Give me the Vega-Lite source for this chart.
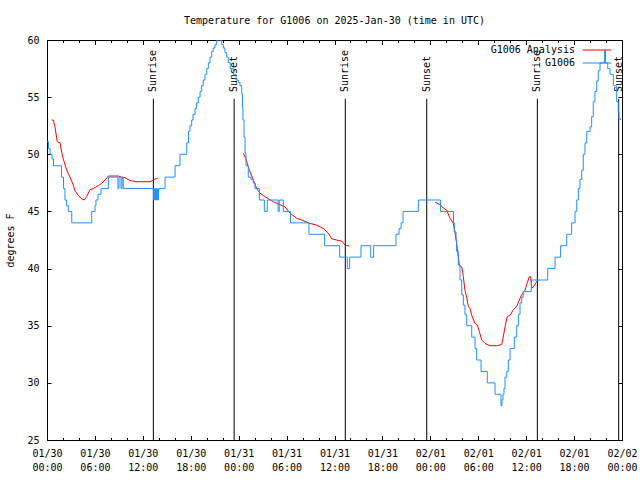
{
  "$schema": "https://vega.github.io/schema/vega-lite/v6.json",
  "width": 575,
  "height": 400,
  "autosize": {"type": "none"},
  "padding": {"left": 47, "top": 40, "right": 18, "bottom": 40},
  "background": "white",
  "title": {"text": "Temperature for G1006 on 2025-Jan-30 (time in UTC)", "font": "DejaVu Sans Mono", "fontSize": 10, "fontWeight": "normal", "color": "black", "anchor": "middle", "offset": 9},
  "config": {
    "view": {"stroke": "black", "strokeWidth": 1},
    "font": "DejaVu Sans Mono",
    "axis": {"domainColor": "black", "tickColor": "black", "labelColor": "black", "titleColor": "black", "labelFont": "DejaVu Sans Mono", "titleFont": "DejaVu Sans Mono", "labelFontSize": 10, "titleFontSize": 10, "titleFontWeight": "normal", "grid": false, "tickWidth": 1, "domainWidth": 1},
    "legend": {"labelFont": "DejaVu Sans Mono", "labelFontSize": 10, "labelColor": "black"}
  },
  "datasets": {
    "obs": [
      {"t":"2025-01-30T00:00Z","v":51.1},{"t":"2025-01-30T00:11Z","v":50.5},{"t":"2025-01-30T00:23Z","v":50.0},{"t":"2025-01-30T00:38Z","v":49.6},{"t":"2025-01-30T00:49Z","v":49.0},{"t":"2025-01-30T01:49Z","v":48.0},{"t":"2025-01-30T02:04Z","v":47.0},{"t":"2025-01-30T02:15Z","v":46.0},{"t":"2025-01-30T02:27Z","v":45.5},{"t":"2025-01-30T02:40Z","v":45.0},{"t":"2025-01-30T03:06Z","v":44.0},{"t":"2025-01-30T05:36Z","v":45.0},{"t":"2025-01-30T06:01Z","v":45.5},{"t":"2025-01-30T06:08Z","v":46.0},{"t":"2025-01-30T06:23Z","v":46.5},{"t":"2025-01-30T06:46Z","v":47.0},{"t":"2025-01-30T07:41Z","v":48.0},{"t":"2025-01-30T08:53Z","v":47.0},{"t":"2025-01-30T09:01Z","v":48.0},{"t":"2025-01-30T09:16Z","v":47.0},{"t":"2025-01-30T09:24Z","v":48.0},{"t":"2025-01-30T09:33Z","v":47.0},{"t":"2025-01-30T13:20Z","v":46.0},{"t":"2025-01-30T13:28Z","v":47.0},{"t":"2025-01-30T13:35Z","v":46.0},{"t":"2025-01-30T13:43Z","v":47.0},{"t":"2025-01-30T13:50Z","v":46.0},{"t":"2025-01-30T13:58Z","v":47.0},{"t":"2025-01-30T14:47Z","v":48.0},{"t":"2025-01-30T16:02Z","v":49.0},{"t":"2025-01-30T16:39Z","v":50.0},{"t":"2025-01-30T17:30Z","v":51.0},{"t":"2025-01-30T17:43Z","v":52.0},{"t":"2025-01-30T17:54Z","v":52.5},{"t":"2025-01-30T18:07Z","v":53.0},{"t":"2025-01-30T18:17Z","v":53.5},{"t":"2025-01-30T18:32Z","v":54.0},{"t":"2025-01-30T18:43Z","v":54.5},{"t":"2025-01-30T18:57Z","v":55.0},{"t":"2025-01-30T19:10Z","v":55.5},{"t":"2025-01-30T19:22Z","v":56.0},{"t":"2025-01-30T19:34Z","v":56.5},{"t":"2025-01-30T19:47Z","v":57.0},{"t":"2025-01-30T20:00Z","v":57.5},{"t":"2025-01-30T20:12Z","v":58.0},{"t":"2025-01-30T20:25Z","v":58.5},{"t":"2025-01-30T20:37Z","v":59.0},{"t":"2025-01-30T20:49Z","v":59.3},{"t":"2025-01-30T21:02Z","v":59.6},{"t":"2025-01-30T21:15Z","v":60.0},{"t":"2025-01-30T21:53Z","v":59.6},{"t":"2025-01-30T22:05Z","v":59.3},{"t":"2025-01-30T22:17Z","v":58.9},{"t":"2025-01-30T22:30Z","v":58.5},{"t":"2025-01-30T22:42Z","v":58.0},{"t":"2025-01-30T22:57Z","v":57.5},{"t":"2025-01-30T23:20Z","v":57.0},{"t":"2025-01-30T23:40Z","v":56.5},{"t":"2025-01-30T23:57Z","v":56.3},
      {"t":"2025-01-31T00:10Z","v":56.0},{"t":"2025-01-31T00:23Z","v":55.3},{"t":"2025-01-31T00:29Z","v":54.0},{"t":"2025-01-31T00:32Z","v":53.0},{"t":"2025-01-31T00:40Z","v":51.5},{"t":"2025-01-31T00:48Z","v":50.1},{"t":"2025-01-31T00:55Z","v":49.0},{"t":"2025-01-31T01:12Z","v":48.0},{"t":"2025-01-31T01:33Z","v":47.8},{"t":"2025-01-31T01:50Z","v":47.5},{"t":"2025-01-31T02:03Z","v":47.0},{"t":"2025-01-31T02:35Z","v":46.0},{"t":"2025-01-31T03:13Z","v":45.0},{"t":"2025-01-31T03:35Z","v":46.0},{"t":"2025-01-31T04:56Z","v":45.0},{"t":"2025-01-31T05:05Z","v":46.0},{"t":"2025-01-31T05:35Z","v":45.0},{"t":"2025-01-31T06:29Z","v":44.0},{"t":"2025-01-31T08:48Z","v":43.0},{"t":"2025-01-31T10:46Z","v":42.0},{"t":"2025-01-31T12:39Z","v":41.0},{"t":"2025-01-31T13:36Z","v":40.0},{"t":"2025-01-31T13:54Z","v":41.0},{"t":"2025-01-31T15:19Z","v":42.0},{"t":"2025-01-31T16:32Z","v":41.0},{"t":"2025-01-31T16:54Z","v":42.0},{"t":"2025-01-31T19:42Z","v":43.0},{"t":"2025-01-31T20:05Z","v":43.5},{"t":"2025-01-31T20:20Z","v":44.0},{"t":"2025-01-31T20:35Z","v":45.0},{"t":"2025-01-31T22:30Z","v":46.0},
      {"t":"2025-02-01T01:16Z","v":45.0},{"t":"2025-02-01T02:54Z","v":44.0},{"t":"2025-02-01T03:00Z","v":43.2},{"t":"2025-02-01T03:13Z","v":42.5},{"t":"2025-02-01T03:18Z","v":41.5},{"t":"2025-02-01T03:30Z","v":40.3},{"t":"2025-02-01T03:43Z","v":39.0},{"t":"2025-02-01T03:56Z","v":37.7},{"t":"2025-02-01T04:08Z","v":36.8},{"t":"2025-02-01T04:20Z","v":36.0},{"t":"2025-02-01T04:33Z","v":35.0},{"t":"2025-02-01T05:11Z","v":34.0},{"t":"2025-02-01T05:36Z","v":33.0},{"t":"2025-02-01T05:48Z","v":32.0},{"t":"2025-02-01T06:21Z","v":31.0},{"t":"2025-02-01T07:08Z","v":30.0},{"t":"2025-02-01T08:06Z","v":29.0},{"t":"2025-02-01T08:51Z","v":28.0},{"t":"2025-02-01T08:58Z","v":28.5},{"t":"2025-02-01T09:06Z","v":29.0},{"t":"2025-02-01T09:13Z","v":29.5},{"t":"2025-02-01T09:21Z","v":30.5},{"t":"2025-02-01T09:34Z","v":31.0},{"t":"2025-02-01T09:46Z","v":32.0},{"t":"2025-02-01T09:59Z","v":33.0},{"t":"2025-02-01T10:31Z","v":34.0},{"t":"2025-02-01T10:49Z","v":35.0},{"t":"2025-02-01T11:01Z","v":36.0},{"t":"2025-02-01T11:14Z","v":37.0},{"t":"2025-02-01T11:26Z","v":37.5},{"t":"2025-02-01T11:38Z","v":38.0},{"t":"2025-02-01T12:39Z","v":39.0},{"t":"2025-02-01T14:42Z","v":40.0},{"t":"2025-02-01T15:37Z","v":41.0},{"t":"2025-02-01T16:19Z","v":42.0},{"t":"2025-02-01T17:05Z","v":43.0},{"t":"2025-02-01T17:42Z","v":44.0},{"t":"2025-02-01T18:07Z","v":45.0},{"t":"2025-02-01T18:20Z","v":46.0},{"t":"2025-02-01T18:32Z","v":47.0},{"t":"2025-02-01T18:44Z","v":47.8},{"t":"2025-02-01T18:57Z","v":48.6},{"t":"2025-02-01T19:09Z","v":50.0},{"t":"2025-02-01T19:22Z","v":51.0},{"t":"2025-02-01T19:35Z","v":52.0},{"t":"2025-02-01T20:00Z","v":52.4},{"t":"2025-02-01T20:12Z","v":53.3},{"t":"2025-02-01T20:24Z","v":54.6},{"t":"2025-02-01T20:37Z","v":55.5},{"t":"2025-02-01T20:50Z","v":56.4},{"t":"2025-02-01T21:02Z","v":57.3},{"t":"2025-02-01T21:15Z","v":58.0},{"t":"2025-02-01T21:49Z","v":59.1},{"t":"2025-02-01T21:56Z","v":58.0},{"t":"2025-02-01T22:13Z","v":57.5},{"t":"2025-02-01T22:30Z","v":57.0},{"t":"2025-02-01T22:55Z","v":56.0},{"t":"2025-02-01T23:20Z","v":54.6},{"t":"2025-02-01T23:32Z","v":53.7},{"t":"2025-02-01T23:37Z","v":53.1},{"t":"2025-02-01T23:49Z","v":53.0}
    ],
    "ana": [
      {"t":"2025-01-30T00:35Z","v":53.0,"seg":1},{"t":"2025-01-30T00:47Z","v":53.0,"seg":1},{"t":"2025-01-30T01:00Z","v":52.4,"seg":1},{"t":"2025-01-30T01:17Z","v":51.1,"seg":1},{"t":"2025-01-30T01:38Z","v":51.0,"seg":1},{"t":"2025-01-30T01:50Z","v":50.2,"seg":1},{"t":"2025-01-30T02:02Z","v":49.6,"seg":1},{"t":"2025-01-30T02:23Z","v":48.8,"seg":1},{"t":"2025-01-30T02:40Z","v":48.3,"seg":1},{"t":"2025-01-30T02:53Z","v":48.0,"seg":1},{"t":"2025-01-30T03:18Z","v":47.3,"seg":1},{"t":"2025-01-30T03:30Z","v":46.8,"seg":1},{"t":"2025-01-30T03:55Z","v":46.4,"seg":1},{"t":"2025-01-30T04:21Z","v":46.1,"seg":1},{"t":"2025-01-30T04:40Z","v":46.0,"seg":1},{"t":"2025-01-30T04:58Z","v":46.3,"seg":1},{"t":"2025-01-30T05:23Z","v":46.9,"seg":1},{"t":"2025-01-30T05:48Z","v":47.0,"seg":1},{"t":"2025-01-30T06:25Z","v":47.25,"seg":1},{"t":"2025-01-30T06:51Z","v":47.45,"seg":1},{"t":"2025-01-30T07:16Z","v":47.75,"seg":1},{"t":"2025-01-30T07:41Z","v":48.1,"seg":1},{"t":"2025-01-30T08:56Z","v":48.1,"seg":1},{"t":"2025-01-30T09:21Z","v":48.0,"seg":1},{"t":"2025-01-30T09:46Z","v":47.95,"seg":1},{"t":"2025-01-30T10:24Z","v":47.7,"seg":1},{"t":"2025-01-30T11:14Z","v":47.6,"seg":1},{"t":"2025-01-30T12:54Z","v":47.6,"seg":1},{"t":"2025-01-30T13:19Z","v":47.75,"seg":1},{"t":"2025-01-30T13:44Z","v":47.9,"seg":1},{"t":"2025-01-30T13:56Z","v":47.9,"seg":1},
      {"t":"2025-01-31T00:35Z","v":50.1,"seg":2},{"t":"2025-01-31T00:55Z","v":49.6,"seg":2},{"t":"2025-01-31T01:05Z","v":49.2,"seg":2},{"t":"2025-01-31T01:20Z","v":48.6,"seg":2},{"t":"2025-01-31T01:38Z","v":48.1,"seg":2},{"t":"2025-01-31T02:03Z","v":47.4,"seg":2},{"t":"2025-01-31T02:15Z","v":47.0,"seg":2},{"t":"2025-01-31T02:40Z","v":46.6,"seg":2},{"t":"2025-01-31T03:05Z","v":46.4,"seg":2},{"t":"2025-01-31T03:43Z","v":46.1,"seg":2},{"t":"2025-01-31T04:20Z","v":45.85,"seg":2},{"t":"2025-01-31T05:10Z","v":45.6,"seg":2},{"t":"2025-01-31T05:48Z","v":45.4,"seg":2},{"t":"2025-01-31T06:26Z","v":44.85,"seg":2},{"t":"2025-01-31T07:16Z","v":44.4,"seg":2},{"t":"2025-01-31T07:54Z","v":44.25,"seg":2},{"t":"2025-01-31T08:56Z","v":43.95,"seg":2},{"t":"2025-01-31T09:46Z","v":43.8,"seg":2},{"t":"2025-01-31T10:36Z","v":43.5,"seg":2},{"t":"2025-01-31T11:13Z","v":43.1,"seg":2},{"t":"2025-01-31T11:39Z","v":42.6,"seg":2},{"t":"2025-01-31T12:16Z","v":42.5,"seg":2},{"t":"2025-01-31T12:54Z","v":42.4,"seg":2},{"t":"2025-01-31T13:19Z","v":42.06,"seg":2},{"t":"2025-01-31T13:32Z","v":42.0,"seg":2},{"t":"2025-01-31T13:51Z","v":42.0,"seg":2},
      {"t":"2025-02-01T00:35Z","v":45.8,"seg":3},{"t":"2025-02-01T01:13Z","v":45.6,"seg":3},{"t":"2025-02-01T01:37Z","v":45.3,"seg":3},{"t":"2025-02-01T02:03Z","v":45.1,"seg":3},{"t":"2025-02-01T02:28Z","v":44.4,"seg":3},{"t":"2025-02-01T02:53Z","v":43.95,"seg":3},{"t":"2025-02-01T03:05Z","v":43.2,"seg":3},{"t":"2025-02-01T03:23Z","v":41.75,"seg":3},{"t":"2025-02-01T03:38Z","v":40.3,"seg":3},{"t":"2025-02-01T03:56Z","v":40.15,"seg":3},{"t":"2025-02-01T04:08Z","v":39.3,"seg":3},{"t":"2025-02-01T04:20Z","v":38.1,"seg":3},{"t":"2025-02-01T04:33Z","v":37.5,"seg":3},{"t":"2025-02-01T04:45Z","v":36.7,"seg":3},{"t":"2025-02-01T04:58Z","v":36.5,"seg":3},{"t":"2025-02-01T05:11Z","v":35.9,"seg":3},{"t":"2025-02-01T05:36Z","v":35.2,"seg":3},{"t":"2025-02-01T05:53Z","v":35.06,"seg":3},{"t":"2025-02-01T06:08Z","v":34.5,"seg":3},{"t":"2025-02-01T06:26Z","v":33.75,"seg":3},{"t":"2025-02-01T06:51Z","v":33.45,"seg":3},{"t":"2025-02-01T07:28Z","v":33.25,"seg":3},{"t":"2025-02-01T08:19Z","v":33.25,"seg":3},{"t":"2025-02-01T08:56Z","v":33.35,"seg":3},{"t":"2025-02-01T09:08Z","v":34.0,"seg":3},{"t":"2025-02-01T09:21Z","v":34.9,"seg":3},{"t":"2025-02-01T09:38Z","v":35.8,"seg":3},{"t":"2025-02-01T09:59Z","v":35.9,"seg":3},{"t":"2025-02-01T10:23Z","v":36.4,"seg":3},{"t":"2025-02-01T10:49Z","v":36.7,"seg":3},{"t":"2025-02-01T11:14Z","v":37.4,"seg":3},{"t":"2025-02-01T11:26Z","v":37.7,"seg":3},{"t":"2025-02-01T11:51Z","v":38.1,"seg":3},{"t":"2025-02-01T12:04Z","v":38.6,"seg":3},{"t":"2025-02-01T12:24Z","v":39.3,"seg":3},{"t":"2025-02-01T12:34Z","v":39.3,"seg":3},{"t":"2025-02-01T12:42Z","v":38.3,"seg":3},{"t":"2025-02-01T12:54Z","v":38.4,"seg":3},{"t":"2025-02-01T13:19Z","v":38.85,"seg":3},{"t":"2025-02-01T13:31Z","v":39.0,"seg":3}
    ],
    "sun": [
      {"t":"2025-01-30T13:19Z","event":"Sunrise"},{"t":"2025-01-30T23:26Z","event":"Sunset"},
      {"t":"2025-01-31T13:21Z","event":"Sunrise"},{"t":"2025-01-31T23:33Z","event":"Sunset"},
      {"t":"2025-02-01T13:24Z","event":"Sunrise"},{"t":"2025-02-01T23:35Z","event":"Sunset"}
    ]
  },
  "layer": [
    {
      "data": {"name": "sun"},
      "mark": {"type": "rule", "color": "black", "strokeWidth": 1},
      "encoding": {
        "x": {"field": "t", "type": "temporal",
          "axis": {"orient": "bottom", "title": null, "labels": false, "domain": false, "tickSize": -2.5,
            "values": [
              {"year":2025,"month":1,"date":30,"hours":2,"utc":true},{"year":2025,"month":1,"date":30,"hours":4,"utc":true},{"year":2025,"month":1,"date":30,"hours":8,"utc":true},{"year":2025,"month":1,"date":30,"hours":10,"utc":true},{"year":2025,"month":1,"date":30,"hours":14,"utc":true},{"year":2025,"month":1,"date":30,"hours":16,"utc":true},{"year":2025,"month":1,"date":30,"hours":20,"utc":true},{"year":2025,"month":1,"date":30,"hours":22,"utc":true},
              {"year":2025,"month":1,"date":31,"hours":2,"utc":true},{"year":2025,"month":1,"date":31,"hours":4,"utc":true},{"year":2025,"month":1,"date":31,"hours":8,"utc":true},{"year":2025,"month":1,"date":31,"hours":10,"utc":true},{"year":2025,"month":1,"date":31,"hours":14,"utc":true},{"year":2025,"month":1,"date":31,"hours":16,"utc":true},{"year":2025,"month":1,"date":31,"hours":20,"utc":true},{"year":2025,"month":1,"date":31,"hours":22,"utc":true},
              {"year":2025,"month":2,"date":1,"hours":2,"utc":true},{"year":2025,"month":2,"date":1,"hours":4,"utc":true},{"year":2025,"month":2,"date":1,"hours":8,"utc":true},{"year":2025,"month":2,"date":1,"hours":10,"utc":true},{"year":2025,"month":2,"date":1,"hours":14,"utc":true},{"year":2025,"month":2,"date":1,"hours":16,"utc":true},{"year":2025,"month":2,"date":1,"hours":20,"utc":true},{"year":2025,"month":2,"date":1,"hours":22,"utc":true}
            ]}},
        "y": {"datum": 25, "type": "quantitative", "axis": null},
        "y2": {"datum": 54.85}
      }
    },
    {
      "data": {"name": "sun"},
      "mark": {"type": "text", "angle": 270, "align": "left", "baseline": "middle", "font": "DejaVu Sans Mono", "fontSize": 10, "color": "black"},
      "encoding": {
        "x": {"field": "t", "type": "temporal",
          "axis": {"orient": "top", "title": null, "labels": false, "domain": false, "tickSize": -2.5,
            "values": [
              {"year":2025,"month":1,"date":30,"hours":2,"utc":true},{"year":2025,"month":1,"date":30,"hours":4,"utc":true},{"year":2025,"month":1,"date":30,"hours":8,"utc":true},{"year":2025,"month":1,"date":30,"hours":10,"utc":true},{"year":2025,"month":1,"date":30,"hours":14,"utc":true},{"year":2025,"month":1,"date":30,"hours":16,"utc":true},{"year":2025,"month":1,"date":30,"hours":20,"utc":true},{"year":2025,"month":1,"date":30,"hours":22,"utc":true},
              {"year":2025,"month":1,"date":31,"hours":2,"utc":true},{"year":2025,"month":1,"date":31,"hours":4,"utc":true},{"year":2025,"month":1,"date":31,"hours":8,"utc":true},{"year":2025,"month":1,"date":31,"hours":10,"utc":true},{"year":2025,"month":1,"date":31,"hours":14,"utc":true},{"year":2025,"month":1,"date":31,"hours":16,"utc":true},{"year":2025,"month":1,"date":31,"hours":20,"utc":true},{"year":2025,"month":1,"date":31,"hours":22,"utc":true},
              {"year":2025,"month":2,"date":1,"hours":2,"utc":true},{"year":2025,"month":2,"date":1,"hours":4,"utc":true},{"year":2025,"month":2,"date":1,"hours":8,"utc":true},{"year":2025,"month":2,"date":1,"hours":10,"utc":true},{"year":2025,"month":2,"date":1,"hours":14,"utc":true},{"year":2025,"month":2,"date":1,"hours":16,"utc":true},{"year":2025,"month":2,"date":1,"hours":20,"utc":true},{"year":2025,"month":2,"date":1,"hours":22,"utc":true}
            ]}},
        "y": {"datum": 55.45, "type": "quantitative", "axis": null},
        "text": {"field": "event", "type": "nominal"}
      }
    },
    {
      "data": {"name": "ana"},
      "transform": [{"calculate": "'G1006 Analysis'", "as": "series"}],
      "mark": {"type": "line", "strokeWidth": 1, "clip": true},
      "encoding": {
        "x": {
          "field": "t", "type": "temporal",
          "scale": {"type": "utc", "domain": [{"year": 2025, "month": 1, "date": 30, "utc": true}, {"year": 2025, "month": 2, "date": 2, "utc": true}]},
          "axis": {
            "orient": "bottom", "title": null, "tickSize": -4.5, "labelPadding": 12.5, "labelFlush": false,
            "values": [
              {"year":2025,"month":1,"date":30,"hours":0,"utc":true},{"year":2025,"month":1,"date":30,"hours":6,"utc":true},{"year":2025,"month":1,"date":30,"hours":12,"utc":true},{"year":2025,"month":1,"date":30,"hours":18,"utc":true},
              {"year":2025,"month":1,"date":31,"hours":0,"utc":true},{"year":2025,"month":1,"date":31,"hours":6,"utc":true},{"year":2025,"month":1,"date":31,"hours":12,"utc":true},{"year":2025,"month":1,"date":31,"hours":18,"utc":true},
              {"year":2025,"month":2,"date":1,"hours":0,"utc":true},{"year":2025,"month":2,"date":1,"hours":6,"utc":true},{"year":2025,"month":2,"date":1,"hours":12,"utc":true},{"year":2025,"month":2,"date":1,"hours":18,"utc":true},
              {"year":2025,"month":2,"date":2,"hours":0,"utc":true}
            ],
            "labelExpr": "[utcFormat(datum.value, '%m/%d'), utcFormat(datum.value, '%H:%M')]",
            "labelLineHeight": 14
          }
        },
        "y": {
          "field": "v", "type": "quantitative",
          "scale": {"domain": [25, 60], "nice": false, "zero": false},
          "axis": {"orient": "left", "title": "degrees F", "values": [25, 30, 35, 40, 45, 50, 55, 60], "tickSize": -4, "labelPadding": 12, "titlePadding": 11}
        },
        "detail": {"field": "seg", "type": "nominal"},
        "color": {
          "field": "series", "type": "nominal",
          "scale": {"domain": ["G1006 Analysis", "G1006"], "range": ["#ff0000", "#1e90ff"]},
          "legend": {"title": null, "orient": "none", "legendX": 543.5, "legendY": 3.5, "padding": 0, "symbolType": "M-2.4,0H2.4", "symbolSize": 144, "symbolStrokeWidth": 1, "rowPadding": 1, "labelAlign": "right", "labelOffset": -28.5}
        }
      }
    },
    {
      "data": {"name": "obs"},
      "transform": [{"calculate": "'G1006'", "as": "series"}],
      "mark": {"type": "line", "strokeWidth": 1, "interpolate": "step-after", "clip": true},
      "encoding": {
        "x": {
          "field": "t", "type": "temporal",
          "axis": {"orient": "top", "title": null, "labels": false, "tickSize": -4.5,
            "values": [
              {"year":2025,"month":1,"date":30,"hours":0,"utc":true},{"year":2025,"month":1,"date":30,"hours":6,"utc":true},{"year":2025,"month":1,"date":30,"hours":12,"utc":true},{"year":2025,"month":1,"date":30,"hours":18,"utc":true},
              {"year":2025,"month":1,"date":31,"hours":0,"utc":true},{"year":2025,"month":1,"date":31,"hours":6,"utc":true},{"year":2025,"month":1,"date":31,"hours":12,"utc":true},{"year":2025,"month":1,"date":31,"hours":18,"utc":true},
              {"year":2025,"month":2,"date":1,"hours":0,"utc":true},{"year":2025,"month":2,"date":1,"hours":6,"utc":true},{"year":2025,"month":2,"date":1,"hours":12,"utc":true},{"year":2025,"month":2,"date":1,"hours":18,"utc":true},
              {"year":2025,"month":2,"date":2,"hours":0,"utc":true}
            ]}
        },
        "y": {
          "field": "v", "type": "quantitative",
          "axis": {"orient": "right", "title": null, "labels": false, "values": [25, 30, 35, 40, 45, 50, 55, 60], "tickSize": -4}
        },
        "color": {
          "field": "series", "type": "nominal",
          "legend": {"title": null, "orient": "none", "legendX": 543.5, "legendY": 3.5, "padding": 0, "symbolType": "M-2.4,0H2.4", "symbolSize": 144, "symbolStrokeWidth": 1, "rowPadding": 1, "labelAlign": "right", "labelOffset": -28.5}
        }
      }
    }
  ],
  "resolve": {"axis": {"x": "independent", "y": "independent"}}
}
